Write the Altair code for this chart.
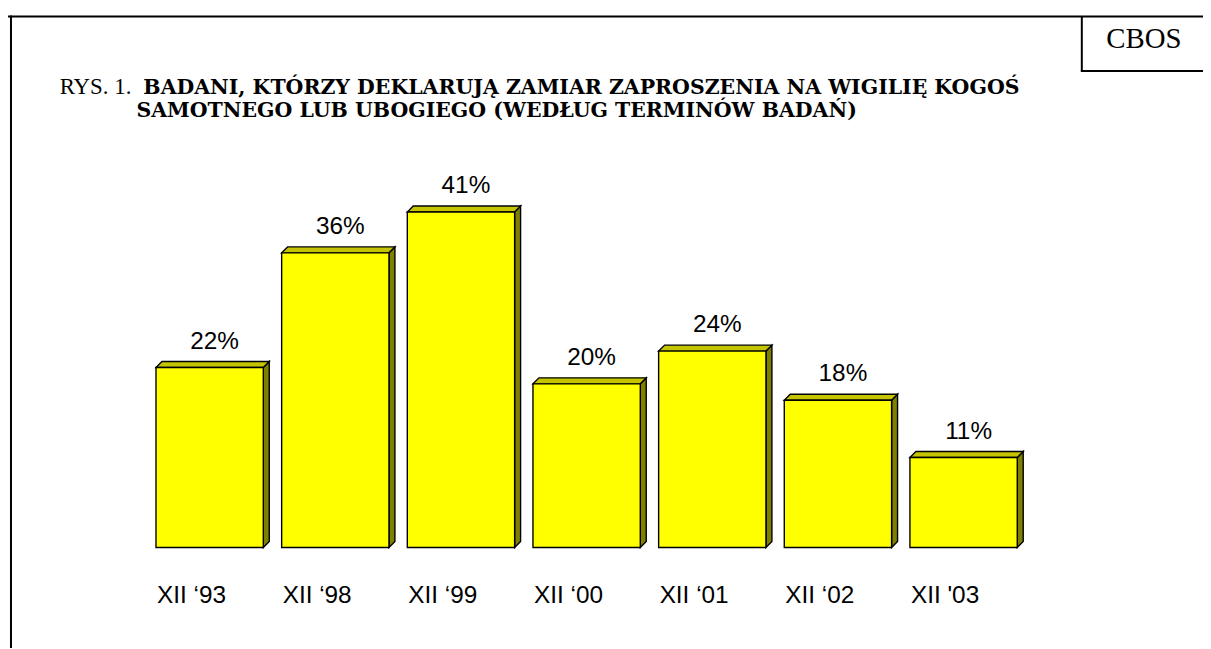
import altair as alt
import pandas as pd

# ---- data ----
categories = ["XII \u201893", "XII \u201898", "XII \u201899", "XII \u201800", "XII \u201801", "XII \u201802", "XII '03"]
values = [22, 36, 41, 20, 24, 18, 11]
value_labels = [f"{v}%" for v in values]

title_prefix = "RYS. 1."
title_line1 = "BADANI, KTÓRZY DEKLARUJĄ  ZAMIAR ZAPROSZENIA NA WIGILIĘ KOGOŚ"
title_line2 = "SAMOTNEGO LUB UBOGIEGO (WEDŁUG TERMINÓW BADAŃ)"
brand = "CBOS"

# ---- geometry / style constants ----
PLOT_W = 885.5
PLOT_H = 412
Y_MAX = 50
N = len(values)
STEP_PX = PLOT_W / N
PX_PER_UNIT = PLOT_H / Y_MAX
HALF = 0.427          # half bar width in index units
DEPTH = 6             # 3D depth in px
DX = DEPTH / STEP_PX
DY = DEPTH / PX_PER_UNIT

FRONT = "#FFFF00"
TOP = "#C4C400"
SIDE = "#808000"
SERIF = "Liberation Serif"
SERIF_BOLD = "DejaVu Serif"
SANS = "Liberation Sans, Arial, sans-serif"

bars = pd.DataFrame({
    "idx": list(range(N)),
    "cat": categories,
    "value": values,
    "label": value_labels,
})
bars["x0"] = bars["idx"] - HALF
bars["x1"] = bars["idx"] + HALF
bars["zero"] = 0

top_rows = []
side_rows = []
for i, v in zip(bars["idx"], values):
    x0, x1 = i - HALF, i + HALF
    top_rows += [
        {"bar": i, "x": x0, "lo": v, "hi": v},
        {"bar": i, "x": x0 + DX, "lo": v, "hi": v + DY},
        {"bar": i, "x": x1, "lo": v, "hi": v + DY},
        {"bar": i, "x": x1 + DX, "lo": v + DY, "hi": v + DY},
    ]
    side_rows += [
        {"bar": i, "x": x1, "lo": 0, "hi": v},
        {"bar": i, "x": x1 + DX, "lo": DY, "hi": v + DY},
    ]
top_df = pd.DataFrame(top_rows)
side_df = pd.DataFrame(side_rows)

xs = alt.Scale(domain=[-0.5, N - 0.5], nice=False, zero=False)
ys = alt.Scale(domain=[0, Y_MAX], nice=False, zero=False)

top_face = alt.Chart(top_df).mark_area(
    orient="vertical", fill=TOP, stroke="black", strokeWidth=1.4
).encode(
    x=alt.X("x:Q", scale=xs, axis=None),
    y=alt.Y("lo:Q", scale=ys, axis=None, stack=None),
    y2="hi:Q",
    detail="bar:N",
)

side_face = alt.Chart(side_df).mark_area(
    orient="vertical", fill=SIDE, stroke="black", strokeWidth=1.4
).encode(
    x=alt.X("x:Q", scale=xs, axis=None),
    y=alt.Y("lo:Q", scale=ys, axis=None, stack=None),
    y2="hi:Q",
    detail="bar:N",
)

front = alt.Chart(bars).mark_rect(
    fill=FRONT, stroke="black", strokeWidth=1.4
).encode(
    x=alt.X("x0:Q", scale=xs, axis=None),
    x2="x1:Q",
    y=alt.Y("value:Q", scale=ys, axis=None),
    y2="zero:Q",
)

value_text = alt.Chart(bars).mark_text(
    font=SANS, fontSize=24.5, color="black",
    baseline="alphabetic", align="center", dx=5, dy=-19
).encode(
    x=alt.X("idx:Q", scale=xs, axis=None),
    y=alt.Y("value:Q", scale=ys, axis=None),
    text="label:N",
)

cat_text = alt.Chart(bars).mark_text(
    font=SANS, fontSize=24.5, color="black",
    baseline="alphabetic", align="left", dx=-53, dy=56
).encode(
    x=alt.X("idx:Q", scale=xs, axis=None),
    y=alt.Y("zero:Q", scale=ys, axis=None),
    text="cat:N",
)

one = pd.DataFrame({"k": [0]})


def rule(x1, x2, y1, y2):
    return alt.Chart(one).mark_rule(color="black", strokeWidth=2).encode(
        x=alt.value(x1), x2=alt.value(x2), y=alt.value(y1), y2=alt.value(y2)
    )


def label(txt, x, y, size, weight="normal", font=SERIF, align="left"):
    return alt.Chart(one).mark_text(
        font=font, fontSize=size, fontWeight=weight, color="black",
        align=align, baseline="alphabetic"
    ).encode(x=alt.value(x), y=alt.value(y), text=alt.value(txt))


frame = [
    rule(-140, 1064, -122.7, -122.7),      # top border
    rule(-136.75, -136.75, -123.7, 520),   # left border
    rule(941.25, 941.25, -122.7, -67.7),   # CBOS box vertical
    rule(940.25, 1064, -67.7, -67.7),      # CBOS box horizontal
]

titles = [
    label(brand, 1003.75, -90.5, 29, align="center"),
    label(title_prefix, -87.75, -44.3, 23),
    label(title_line1, -3.5, -44.3, 20.6, weight="bold", font=SERIF_BOLD),
    label(title_line2, -10.5, -21.7, 20.6, weight="bold", font=SERIF_BOLD),
]

chart = alt.layer(
    side_face, top_face, front, value_text, cat_text, *frame, *titles
).properties(
    width=PLOT_W,
    height=PLOT_H,
    autosize=alt.AutoSizeParams(type="none"),
    padding={"left": 139.75, "top": 129, "right": 177.75, "bottom": 99},
    background="white",
).configure_view(stroke=None)

chart.save("out.html", embed_options={"renderer": "svg", "actions": False})
